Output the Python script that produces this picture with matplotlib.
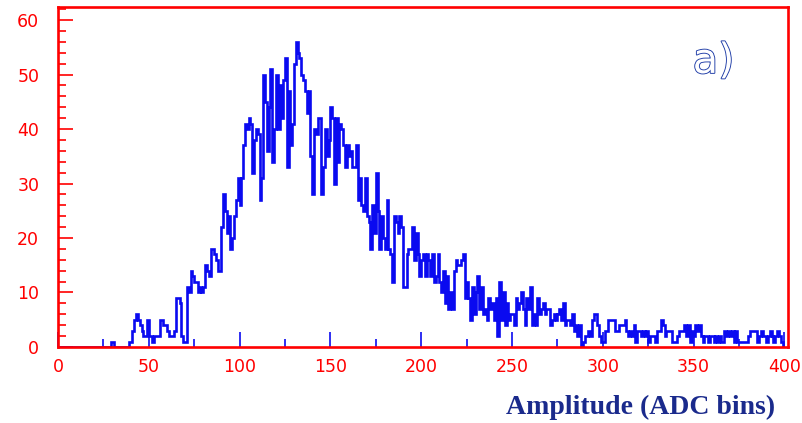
import numpy as np
import matplotlib
matplotlib.use("Agg")
import matplotlib.pyplot as plt
import matplotlib.patheffects as pe
from matplotlib.ticker import MultipleLocator

# Counts per ADC bin (one bin per ADC unit, 0..399)
counts_000_099 = [
    0, 0, 0, 0, 0, 0, 0, 0, 0, 0,
    0, 0, 0, 0, 0, 0, 0, 0, 0, 0,
    0, 0, 0, 0, 0, 0, 0, 0, 0, 1,
    1, 0, 0, 0, 0, 0, 0, 0, 0, 1,
    1, 3, 5, 6, 5, 4, 3, 2, 2, 5,
    2, 2, 1, 2, 2, 2, 5, 5, 4, 4,
    3, 2, 2, 2, 3, 9, 9, 8, 2, 1,
    1, 11, 10, 14, 13, 12, 12, 10, 11, 10,
    11, 15, 14, 13, 18, 18, 17, 16, 14, 14,
    22, 28, 25, 21, 24, 18, 20, 24, 27, 31,
]
counts_100_199 = [
    26, 31, 37, 41, 40, 42, 41, 32, 38, 40,
    39, 27, 31, 50, 45, 36, 44, 51, 34, 40,
    50, 40, 48, 42, 49, 53, 33, 47, 37, 41,
    52, 56, 54, 53, 50, 49, 47, 43, 47, 35,
    28, 40, 39, 42, 42, 28, 33, 40, 35, 38,
    44, 42, 30, 42, 34, 41, 40, 37, 33, 37,
    35, 36, 33, 33, 37, 27, 31, 26, 25, 31,
    24, 23, 18, 26, 21, 32, 25, 18, 24, 20,
    18, 27, 18, 17, 12, 24, 23, 21, 24, 22,
    11, 11, 17, 18, 18, 22, 16, 21, 17, 13,
]
counts_200_299 = [
    16, 17, 13, 17, 16, 13, 17, 12, 13, 17,
    12, 10, 14, 8, 13, 7, 10, 7, 14, 16,
    15, 15, 16, 17, 9, 12, 9, 5, 11, 6,
    10, 13, 7, 11, 6, 7, 5, 9, 7, 8,
    5, 9, 2, 12, 5, 10, 4, 8, 5, 6,
    6, 4, 9, 7, 8, 10, 7, 4, 9, 7,
    11, 4, 6, 4, 9, 6, 7, 8, 6, 7,
    7, 4, 5, 6, 5, 6, 7, 5, 8, 4,
    5, 5, 4, 6, 3, 4, 2, 4, 0, 1,
    2, 2, 3, 2, 5, 6, 6, 4, 2, 1,
]
counts_300_399 = [
    1, 3, 3, 5, 5, 5, 5, 3, 3, 4,
    4, 4, 5, 3, 2, 3, 2, 4, 1, 3,
    3, 2, 3, 2, 3, 1, 2, 2, 2, 1,
    3, 3, 5, 4, 2, 3, 3, 3, 1, 1,
    1, 2, 3, 3, 3, 4, 2, 4, 1, 3,
    2, 4, 3, 4, 2, 1, 2, 2, 1, 2,
    2, 1, 2, 1, 2, 1, 1, 3, 2, 3,
    2, 3, 1, 3, 1, 1, 1, 1, 1, 1,
    2, 3, 3, 3, 3, 1, 2, 3, 2, 2,
    1, 2, 3, 2, 1, 2, 3, 2, 1, 0,
]

x_major_ticks = [0, 50, 100, 150, 200, 250, 300, 350, 400]
y_major_ticks = [0, 10, 20, 30, 40, 50, 60]
x_label = "Amplitude (ADC bins)"
panel_tag = "a)"

counts = np.array(counts_000_099 + counts_100_199 + counts_200_299 + counts_300_399)
edges = np.arange(len(counts) + 1)

RED = "#ff0000"
HIST_BLUE = "#0a0af0"
NAVY = "#1a2a8c"
TAG_BLUE = "#1c3aa6"

fig = plt.figure(figsize=(8.03, 4.23), dpi=100)
ax = fig.add_axes([0.0722, 0.1797, 0.9091, 0.8038])

ax.stairs(counts, edges, color=HIST_BLUE, linewidth=1.9, baseline=0, zorder=2)

ax.set_xlim(0, 402)
ax.set_ylim(0, 62.4)

for sp in ax.spines.values():
    sp.set_color(RED)
    sp.set_linewidth(1.9)
    sp.set_zorder(3)

ax.set_xticks(x_major_ticks)
ax.set_yticks(y_major_ticks)
ax.xaxis.set_minor_locator(MultipleLocator(25))
ax.yaxis.set_minor_locator(MultipleLocator(2))

ax.tick_params(axis="x", which="both", direction="in", color=HIST_BLUE,
               labelcolor=RED, top=False, width=1.2)
ax.tick_params(axis="x", which="major", length=10.5, pad=8, labelsize=12.5)
ax.tick_params(axis="x", which="minor", length=5.8)
ax.tick_params(axis="y", which="both", direction="in", color=RED,
               labelcolor=RED, right=False, width=1.2)
ax.tick_params(axis="y", which="major", length=10.5, pad=13.5, labelsize=12.5)
ax.tick_params(axis="y", which="minor", length=5.8)

# Panel tag drawn as an outlined (hollow) glyph
ax.text(361, 52.5, panel_tag, ha="center", va="center", fontsize=30,
        family="DejaVu Sans", fontweight="normal", color="white",
        path_effects=[pe.Stroke(linewidth=1.3, foreground=TAG_BLUE), pe.Normal()])

fig.text(775 / 803, 1 - 407 / 423, x_label, ha="right", va="center",
         fontsize=20, family="Liberation Serif", fontweight="bold", color=NAVY)

fig.savefig("out.png", dpi=100)
